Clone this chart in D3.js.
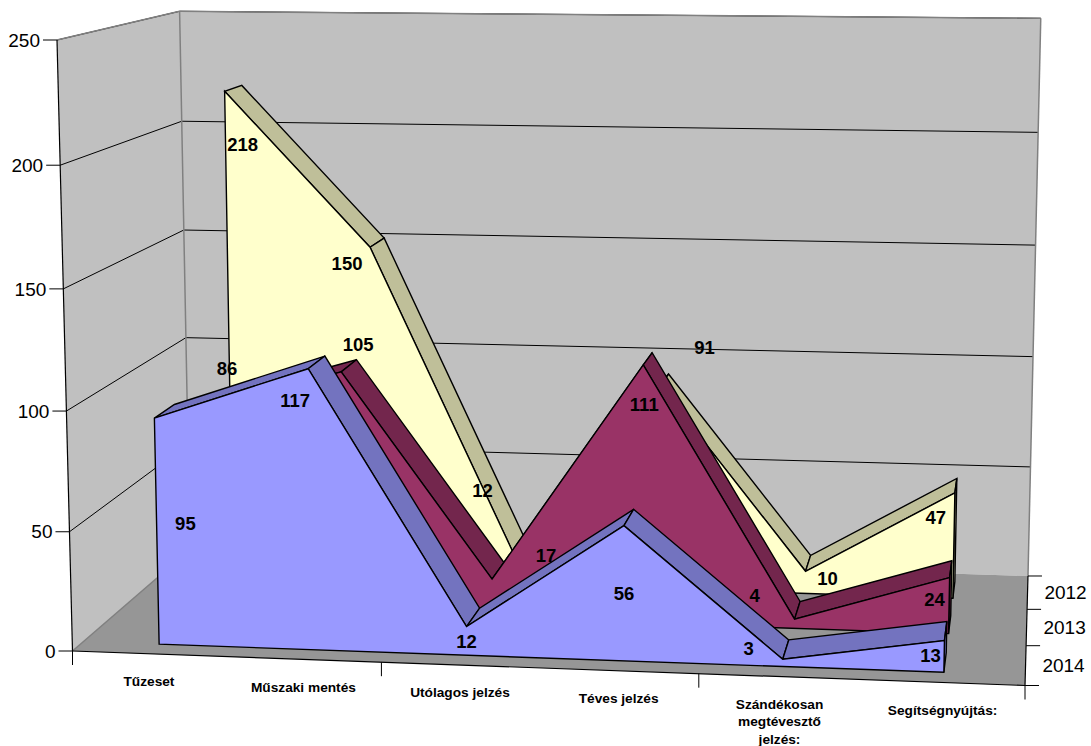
<!DOCTYPE html>
<html lang="hu">

<head>
  <meta charset="utf-8">
  <title>Tűzoltósági vonulások</title>
  <script src="https://cdn.jsdelivr.net/npm/d3@7"></script>
  <style>
    html, body { margin: 0; padding: 0; background: #fff; }
    svg { display: block; }
    text { font-family: "Liberation Sans", Arial, sans-serif; fill: #000; }
    .axis-label { font-size: 19px; }
    .cat-label { font-size: 13.7px; font-weight: bold; }
    .data-label { font-size: 18.5px; font-weight: bold; }
  </style>
</head>

<body>
  <svg id="vis" width="1091" height="746"></svg>

  <script>
    const categories = ["Tűzeset", "Műszaki mentés", "Utólagos jelzés", "Téves jelzés", "Szándékosan megtévesztő jelzés:", "Segítségnyújtás:"];
    const years = ["2014", "2013", "2012"]; // front to back
    const values2012 = [218, 150, 12, 91, 10, 47];
    const values2013 = [86, 105, 17, 111, 4, 24];
    const values2014 = [95, 117, 12, 56, 3, 13];
    const valueTicks = [0, 50, 100, 150, 200, 250];

    // labels were moved by hand in the original sheet, so they get a nudge from their point
    const nudge2012 = [[18, 53], [-23, 16], [-33, -67], [44, -39], [22, 7], [-19, 25]];
    const nudge2013 = [[33, -44], [17, -27], [54, -24], [1, 40], [-40, -24], [-15, 22]];
    const nudge2014 = [[31, 105], [-13, 32], [0, 15], [0, 68], [-34, -11], [-14, 15]];

    const seriesList = [
      { year: "2012", values: values2012, nudge: nudge2012, face: "#FFFFCC", side: "#BFBF99" },
      { year: "2013", values: values2013, nudge: nudge2013, face: "#993366", side: "#73264D" },
      { year: "2014", values: values2014, nudge: nudge2014, face: "#9999FF", side: "#7373BF" }
    ];

    // unit cube -> screen: origin, the three axis ends and a perspective weight per axis
    const O = [72.5, 651];
    const endX = [1025, 685.5], gx = -0.04;
    const endY = [57, 40], gy = -0.03;
    const endZ = [190, 549.5], gz = 0.1368;

    const project = function (u, v, w) {
      const den = 1 + gx * u + gy * v + gz * w;
      return [0, 1].map(function (k) {
        return (O[k]
          + u * ((1 + gx) * endX[k] - O[k])
          + v * ((1 + gy) * endY[k] - O[k])
          + w * ((1 + gz) * endZ[k] - O[k])) / den;
      });
    };

    const xScale = d3.scaleBand().domain(categories).range([0, 1]);
    const yScale = d3.scaleLinear().domain([0, 250]).range([0, 1]);
    const zScale = d3.scaleBand().domain(years).range([0, 1]).paddingInner(0.5).paddingOuter(0.25);
    const xMid = function (i) { return xScale(categories[i]) + xScale.bandwidth() / 2; };

    const svg = d3.select("#vis");
    const path = d3.line();
    const shape = function (pts) { return path(pts) + "Z"; };

    const addPoly = function (parent, pts, fill, stroke, width) {
      parent.append("path")
        .attr("d", shape(pts))
        .attr("fill", fill)
        .attr("stroke", stroke || "none")
        .attr("stroke-width", width || 1)
        .attr("stroke-linejoin", "miter");
    };

    const addLine = function (parent, a, b, stroke, width) {
      parent.append("path")
        .attr("d", path([a, b]))
        .attr("fill", "none")
        .attr("stroke", stroke)
        .attr("stroke-width", width || 1);
    };

    // walls and floor
    const walls = svg.append("g");
    addPoly(walls, [project(0, 0, 0), project(0, 1, 0), project(0, 1, 1), project(0, 0, 1)], "#C0C0C0");
    addPoly(walls, [project(0, 0, 1), project(0, 1, 1), project(1, 1, 1), project(1, 0, 1)], "#C0C0C0");
    addPoly(walls, [project(0, 0, 0), project(1, 0, 0), project(1, 0, 1), project(0, 0, 1)], "#969696");

    valueTicks.filter(function (d) { return d > 0; }).forEach(function (d) {
      const v = yScale(d);
      addLine(walls, project(0, v, 0), project(0, v, 1), "#000", 1);
      addLine(walls, project(0, v, 1), project(1, v, 1), "#000", 1);
    });

    addLine(walls, project(0, 1, 0), project(0, 1, 1), "#808080", 1.5);
    addLine(walls, project(0, 1, 1), project(1, 1, 1), "#808080", 1.5);
    addLine(walls, project(0, 0, 1), project(0, 1, 1), "#808080", 1.5);
    addLine(walls, project(1, 0, 1), project(1, 1, 1), "#808080", 1.5);
    addLine(walls, project(0, 0, 0), project(0, 0, 1), "#808080", 1.5);

    // value axis
    const axes = svg.append("g");
    addLine(axes, project(0, 0, 0), project(0, 1, 0), "#000", 1.2);
    valueTicks.forEach(function (d) {
      const p = project(0, yScale(d), 0);
      addLine(axes, [p[0] - 14, p[1]], p, "#000", 1);
      axes.append("text")
        .attr("class", "axis-label")
        .attr("x", p[0] - 17)
        .attr("y", p[1])
        .attr("dy", "0.35em")
        .attr("text-anchor", "end")
        .text(d);
    });

    // category axis, a tick every second category
    addLine(axes, project(0, 0, 0), project(1, 0, 0), "#000", 1.2);
    [0, 2, 4, 6].forEach(function (i) {
      const p = project(i / categories.length, 0, 0);
      addLine(axes, p, [p[0], p[1] + 14], "#000", 1);
    });

    const catLines = function (name) {
      return name.indexOf("Szándékosan") === 0 ? name.split(" ") : [name];
    };
    categories.forEach(function (name, i) {
      const p = project(xMid(i), 0, 0);
      const label = axes.append("text")
        .attr("class", "cat-label")
        .attr("text-anchor", "middle")
        .attr("y", p[1] + 27.5);
      catLines(name).forEach(function (line, n) {
        label.append("tspan")
          .attr("x", p[0])
          .attr("dy", n === 0 ? "0.35em" : 17.5)
          .text(line);
      });
    });

    // depth axis
    addLine(axes, project(1, 0, 0), project(1, 0, 1), "#000", 1.2);
    d3.range(0, years.length + 1).forEach(function (i) {
      const p = project(1, 0, i / years.length);
      addLine(axes, p, [p[0] + 14, p[1]], "#000", 1);
    });
    years.forEach(function (year) {
      const p = project(1, 0, zScale(year) + zScale.bandwidth() / 2);
      axes.append("text")
        .attr("class", "axis-label")
        .attr("x", p[0] + 38)
        .attr("y", p[1])
        .attr("dy", "0.35em")
        .attr("text-anchor", "middle")
        .text(year);
    });

    // areas, back to front
    const lineW = 1.4;
    seriesList.forEach(function (s) {
      const g = svg.append("g");
      const wf = zScale(s.year);
      const wb = wf + zScale.bandwidth();
      const top = function (i, w) { return project(xMid(i), yScale(s.values[i]), w); };
      const base = function (i, w) { return project(xMid(i), 0, w); };
      const last = s.values.length - 1;

      d3.range(0, last).forEach(function (i) {
        addPoly(g, [top(i, wf), top(i + 1, wf), top(i + 1, wb), top(i, wb)], s.side, "#000", lineW);
      });
      addPoly(g, [top(last, wf), top(last, wb), base(last, wb), base(last, wf)], s.side, "#000", lineW);

      const face = s.values.map(function (_, i) { return top(i, wf); });
      face.push(base(last, wf), base(0, wf));
      addPoly(g, face, s.face, "#000", lineW);
    });

    // data labels on top of everything
    const labels = svg.append("g");
    seriesList.forEach(function (s) {
      s.values.forEach(function (d, i) {
        const p = project(xMid(i), yScale(d), zScale(s.year));
        labels.append("text")
          .attr("class", "data-label")
          .attr("x", p[0] + s.nudge[i][0])
          .attr("y", p[1] + s.nudge[i][1])
          .attr("dy", "0.35em")
          .attr("text-anchor", "middle")
          .text(d);
      });
    });
  </script>
</body>

</html>
